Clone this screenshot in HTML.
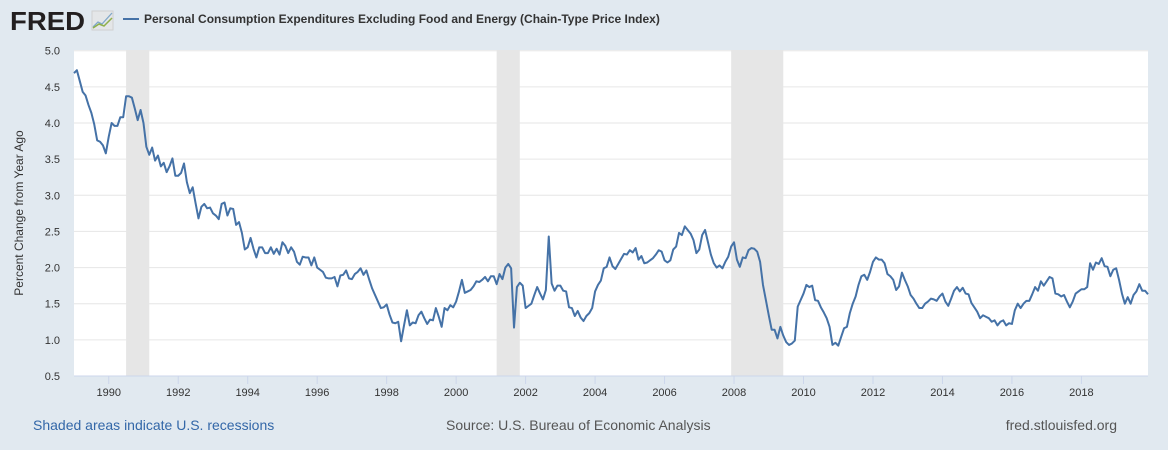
<!DOCTYPE html>
<html><head><meta charset="utf-8"><style>
body{margin:0;background:#e1e9f0;font-family:"Liberation Sans",sans-serif;}
#wrap{position:relative;width:1168px;height:450px;overflow:hidden;background:#e1e9f0;}
</style></head><body>
<div id="wrap">
<svg id="chart" width="1168" height="450"></svg>
</div>
<script>
const startYear = 1989;
const seriesValues = [
4.69,4.73,4.58,4.43,4.38,4.25,4.14,3.98,3.76,3.74,3.69,3.58,3.81,4.0,3.96,3.96,4.08,4.08,4.37,4.37,
4.35,4.2,4.04,4.18,4.0,3.67,3.56,3.66,3.48,3.55,3.4,3.45,3.32,3.4,3.51,3.27,3.27,3.31,3.44,3.18,
3.03,3.11,2.89,2.68,2.84,2.88,2.82,2.83,2.75,2.72,2.67,2.88,2.9,2.72,2.82,2.81,2.59,2.63,2.48,2.25,
2.28,2.41,2.26,2.14,2.28,2.28,2.2,2.2,2.28,2.19,2.26,
2.18,2.35,2.30,2.2,2.28,2.22,2.08,2.04,2.15,2.14,2.14,2.03,2.14,2.0,1.97,1.94,1.86,1.85,1.85,1.87,
1.74,1.89,1.9,1.96,1.85,1.84,1.91,1.94,1.99,1.9,1.96,1.83,1.71,1.62,1.53,1.44,1.45,1.49,1.35,1.24,
1.23,1.25,0.98,1.2,1.41,1.2,1.24,1.23,1.34,1.39,1.3,1.22,1.28,1.27,1.44,1.32,1.18,1.44,1.41,1.48,
1.45,1.53,1.67,1.83,1.65,1.67,1.69,1.74,1.81,1.8,
1.83,1.87,1.81,1.88,1.88,1.77,1.91,1.84,2.0,2.05,1.99,1.17,1.73,1.79,1.75,1.44,1.47,1.5,1.62,1.73,
1.64,1.56,1.69,2.43,1.78,1.68,1.75,1.75,1.68,1.67,1.45,1.44,1.33,1.4,1.31,1.26,1.33,1.37,1.44,1.67,
1.76,1.82,1.99,2.01,2.14,2.02,1.98,2.05,2.12,2.19,2.18,2.24,2.21,2.27,2.11,2.16,2.06,2.07,2.1,2.13,
2.18,2.24,2.22,2.1,2.07,2.1,2.25,2.29,2.48,2.45,2.57,2.52,
2.47,2.38,2.2,2.25,2.45,2.52,2.35,2.18,2.06,2.0,2.03,1.99,2.08,2.15,2.29,2.35,2.11,2.01,2.14,2.13,
2.24,2.27,2.26,2.22,2.08,1.76,1.55,1.34,1.14,1.14,1.02,1.18,1.06,0.97,0.93,0.95,0.99,1.46,1.55,1.64,
1.76,1.73,1.75,1.55,1.54,1.45,1.38,1.3,1.18,0.93,0.96,0.92,1.04,1.16,1.18,1.37,1.5,1.6,1.76,1.88,
1.9,1.83,1.94,2.08,2.14,2.11,2.11,2.06,1.91,1.88,1.83,1.69,1.74,1.93,1.83,1.74,1.62,1.57,1.5,1.44,
1.44,1.5,1.53,
1.57,1.56,1.54,1.6,1.64,1.53,1.47,1.57,1.68,1.73,1.67,1.72,1.64,1.63,1.51,1.45,1.39,1.3,1.34,1.32,
1.3,1.25,1.27,1.2,1.25,1.27,1.2,1.23,1.22,1.41,1.5,1.44,1.5,1.54,1.54,1.63,1.73,1.68,1.81,1.75,
1.81,1.87,1.85,1.64,1.63,1.6,1.62,1.53,1.45,1.53,1.64,1.67,1.7,1.7,1.73,2.06,1.97,2.07,2.05,2.13,
2.02,2.01,1.88,1.97,1.99,1.83,1.64,1.5,1.59,1.5,1.62,1.67,1.77,1.68,1.68,1.63
];
const yTicks = [0.5,1.0,1.5,2.0,2.5,3.0,3.5,4.0,4.5,5.0];
const xTickYears = [1990,1992,1994,1996,1998,2000,2002,2004,2006,2008,2010,2012,2014,2016,2018];
const recessionStarts = [1990.5, 2001.167, 2007.917];
const recessionEnds = [1991.167, 2001.833, 2009.417];

const NS='http://www.w3.org/2000/svg';
const svg=document.getElementById('chart');
const L=74,R=1148,T=50,B=376;
const yMin=0.5,yMax=5.0, y0=376, y1=50.7;
function yScale(v){return y0-(v-yMin)/(yMax-yMin)*(y0-y1);}
const monthStep=(R-L)/371;
function xScale(t){return L+(t-startYear)*12*monthStep;}
function mk(tag,attrs,parent){const e=document.createElementNS(NS,tag);for(const k in attrs)e.setAttribute(k,attrs[k]);(parent||svg).appendChild(e);return e;}

const bg=mk('rect',{x:L,y:T,width:R-L,height:B-T,fill:'#fff'});



recessionStarts.forEach((s,i)=>{
  const r=mk('rect',{x:xScale(s),y:T,width:xScale(recessionEnds[i])-xScale(s),height:B-T,fill:'#e6e6e6'});
  
  
});

yTicks.forEach(v=>{
  const y=yScale(v);
  const g=mk('line',{x1:L,x2:R,y1:y,y2:y,stroke:v===0.5?'#ccd6eb':'#e6e6e6','stroke-width':1});
  
  
  const t=mk('text',{x:60,y:y+4,'text-anchor':'end','font-size':11,fill:'#333','font-family':'Liberation Sans, sans-serif'});
  t.textContent=v.toFixed(1);
  
  
});

xTickYears.forEach(yr=>{
  const x=xScale(yr);
  const tk=mk('line',{x1:x,x2:x,y1:B,y2:B+8,stroke:'#ccd6eb'});
  
  
  const t=mk('text',{x:x,y:396,'text-anchor':'middle','font-size':11,fill:'#333','font-family':'Liberation Sans, sans-serif'});
  t.textContent=yr;
  
  
});

let d='';
seriesValues.forEach((v,i)=>{d+=(i?'L':'M')+(L+i*monthStep).toFixed(2)+','+yScale(v).toFixed(2);});
const line=mk('path',{d:d,fill:'none',stroke:'#4572a7','stroke-width':2,'stroke-linejoin':'round'});



const yt=mk('text',{x:0,y:0,transform:'translate(23,213) rotate(-90)','text-anchor':'middle','font-size':12,fill:'#333','font-family':'Liberation Sans, sans-serif'});
yt.textContent='Percent Change from Year Ago';



const logo=mk('text',{x:10,y:30,'font-size':26,'font-weight':'bold',fill:'#231f20',textLength:75,lengthAdjust:'spacingAndGlyphs','font-family':'Liberation Sans, sans-serif'});
logo.textContent='FRED';


const icon=mk('g',{});


mk('rect',{x:92,y:11,width:21,height:19,fill:'#e4e6e8',stroke:'#d0d0d0'},icon);
mk('polyline',{points:'93,27 98,22 102,24 112,13',fill:'none',stroke:'#7fa7c9','stroke-width':1.3},icon);
mk('polyline',{points:'93,28 99,24 104,26 112,18',fill:'none',stroke:'#8fb04a','stroke-width':1.5},icon);

const lg=mk('line',{x1:123,x2:139,y1:19,y2:19,stroke:'#4572a7','stroke-width':2});


const lt=mk('text',{x:144,y:23,'font-size':12,'font-weight':'bold',fill:'#333','font-family':'Liberation Sans, sans-serif'});
lt.textContent='Personal Consumption Expenditures Excluding Food and Energy (Chain-Type Price Index)';



const f1=mk('text',{x:33,y:430,'font-size':14,fill:'#3367a8','font-family':'Liberation Sans, sans-serif'});
f1.textContent='Shaded areas indicate U.S. recessions';


const f2=mk('text',{x:446,y:430,'font-size':14,fill:'#555','font-family':'Liberation Sans, sans-serif'});
f2.textContent='Source: U.S. Bureau of Economic Analysis';


const f3=mk('text',{x:1117,y:430,'text-anchor':'end','font-size':14,fill:'#555','font-family':'Liberation Sans, sans-serif'});
f3.textContent='fred.stlouisfed.org';


</script>
</body></html>
